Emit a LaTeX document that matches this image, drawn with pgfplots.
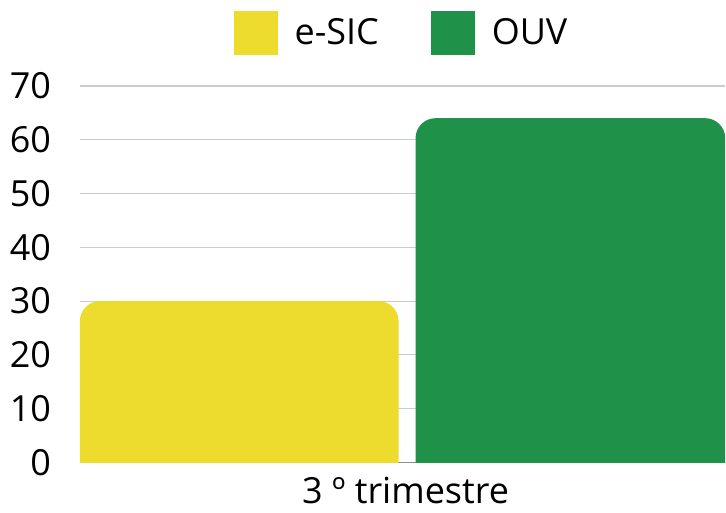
\documentclass[border=0pt]{standalone}
\usepackage{pgfplots}
\pgfplotsset{compat=1.18}
\usepackage{fontspec}
\setmainfont{Open Sans}
\definecolor{esic}{HTML}{EDDC2D}
\definecolor{ouv}{HTML}{1F9149}
\definecolor{gridc}{HTML}{CCCCCC}
\definecolor{basec}{HTML}{8C8C8C}
\begin{document}
\begin{tikzpicture}
\begin{axis}[
  scale only axis,
  width=323pt, height=188.5pt,
  xmin=80, xmax=726,
  ymin=0, ymax=70,
  ytick={0,10,...,70},
  xtick={406},
  xticklabels={3 º trimestre},
  major tick length=0pt,
  axis line style={draw=none},
  ymajorgrids,
  grid style={gridc, line width=0.6pt},
  extra y ticks={0},
  extra y tick labels={},
  extra y tick style={grid style={basec, line width=0.8pt}},
  tick label style={font=\fontsize{18}{20}\selectfont},
  /pgf/number format/assume math mode=true,
  yticklabel style={xshift=-11pt},
  xticklabel style={yshift=-4pt},
  legend columns=2,
  legend style={at={(0.5,1.14)}, anchor=center, draw=none, fill=none,
    font=\fontsize{18}{20}\selectfont,
    /tikz/every even column/.append style={column sep=24pt}},
  legend image code/.code={\fill[#1, draw=none, sharp corners] (0pt,-11pt) rectangle (22pt,11pt); \path (28.5pt,0pt);},
]
\addplot[fill=esic, draw=none, rounded corners=10pt] coordinates {(80,-10) (80,30) (399,30) (399,-10)} -- cycle;
\addlegendentry{e-SIC}
\addplot[fill=ouv, draw=none, rounded corners=10pt] coordinates {(416,-10) (416,64) (726,64) (726,-10)} -- cycle;
\addlegendentry{OUV}
\end{axis}
\path[use as bounding box] (-40pt,-25pt) rectangle (323pt,231.5pt);
\end{tikzpicture}
\end{document}
